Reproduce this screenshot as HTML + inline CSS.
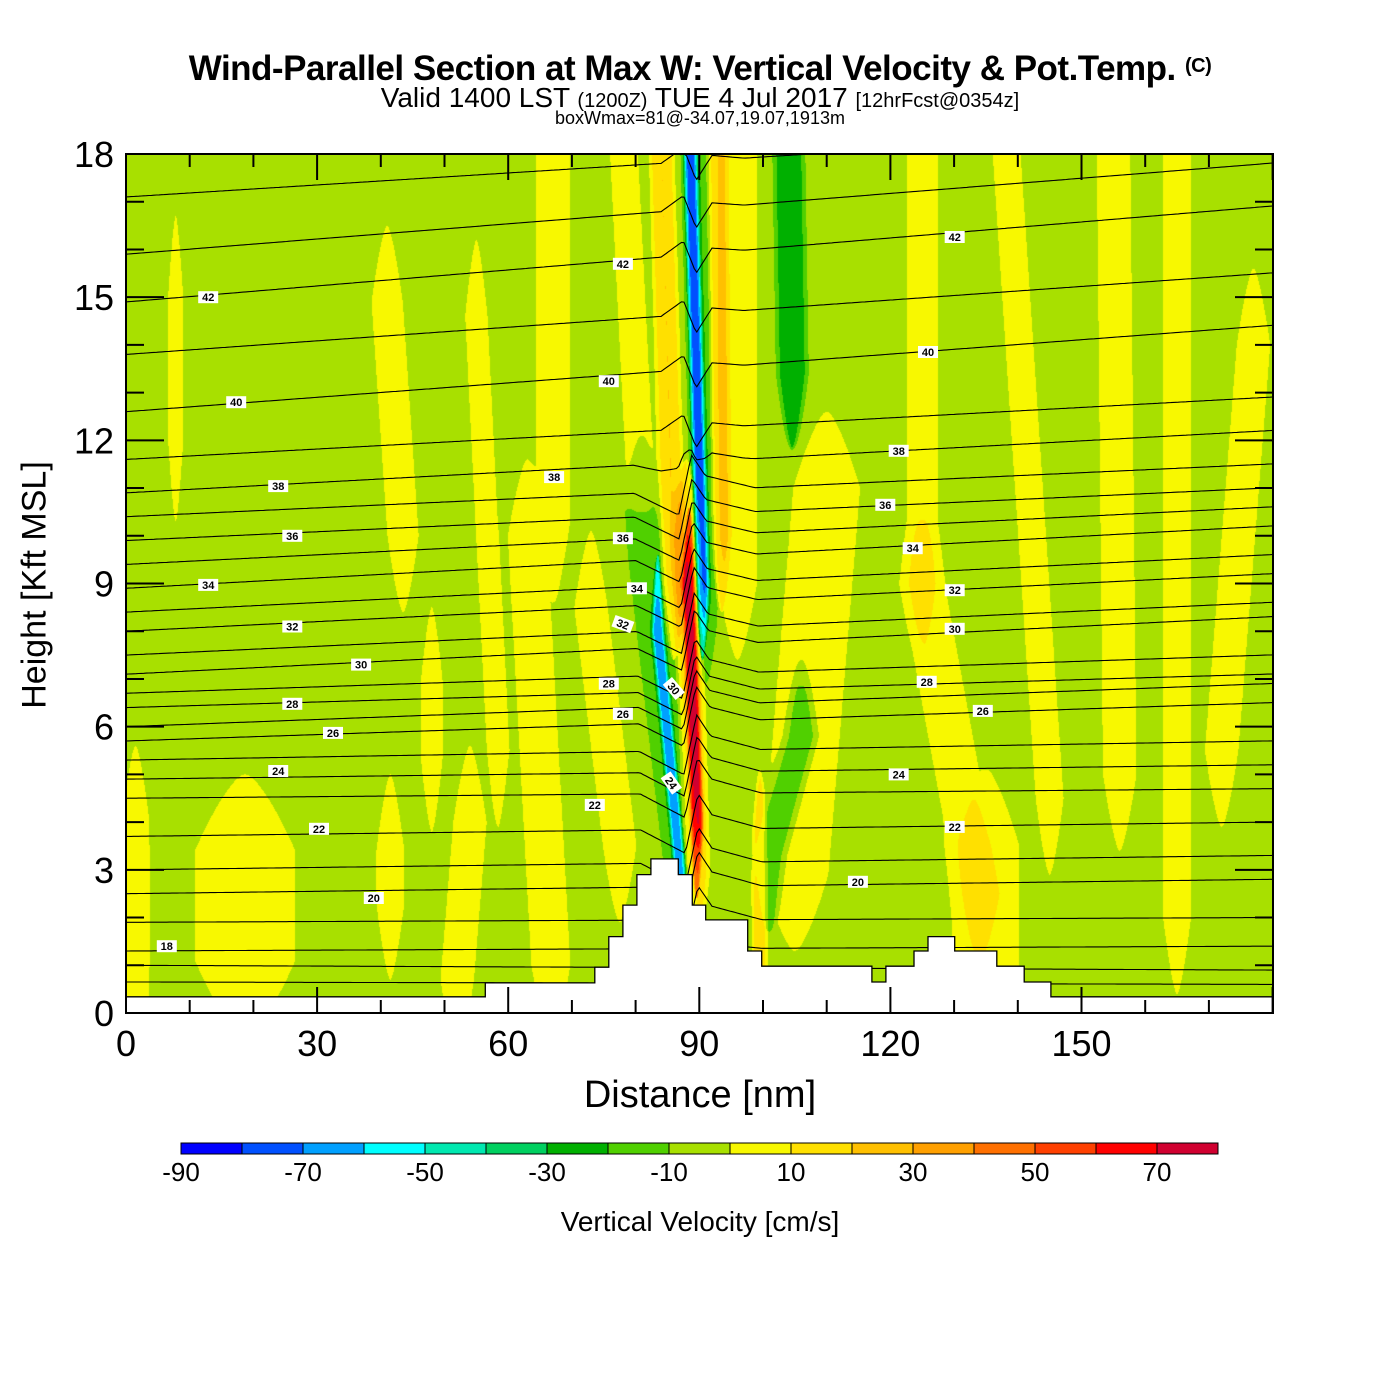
<!DOCTYPE html>
<html><head><meta charset="utf-8">
<style>
body{margin:0;background:#fff;}
#wrap{position:relative;width:1400px;height:1400px;background:#fff;font-family:"Liberation Sans",sans-serif;overflow:hidden;}
#field{position:absolute;left:126px;top:154px;}
#ov{position:absolute;left:0;top:0;}
.t{position:absolute;white-space:nowrap;color:#000;}
</style></head><body>
<div id="wrap">
<div class="t" style="left:0;width:1400px;text-align:center;top:49px;font-size:35px;font-weight:bold;letter-spacing:-0.5px">Wind-Parallel Section at Max W: Vertical Velocity &amp; Pot.Temp. <span style="font-size:20px;vertical-align:8px">(C)</span></div>
<div class="t" style="left:0;width:1400px;text-align:center;top:82px;font-size:28px">Valid 1400 LST <span style="font-size:20px">(1200Z)</span> TUE 4 Jul 2017 <span style="font-size:20px">[12hrFcst@0354z]</span></div>
<div class="t" style="left:0;width:1400px;text-align:center;top:108px;font-size:18px">boxWmax=81@-34.07,19.07,1913m</div>
<canvas id="field" width="1147" height="859"></canvas>
<svg id="ov" width="1400" height="1400"></svg>
<div class="t" style="left:0;width:1400px;text-align:center;top:1074px;font-size:38px">Distance [nm]</div>
<div class="t" style="left:35px;top:585px;font-size:34px;transform:translate(-50%,-50%) rotate(-90deg)">Height [Kft MSL]</div>
<div class="t" style="left:0;width:1400px;text-align:center;top:1206px;font-size:28px">Vertical Velocity [cm/s]</div>
</div>
<script>
// ---- data ----
const binColors=["#0000ff","#0050ff","#00a0ff","#00ffff","#00e8b0","#00d060","#00b000","#50d000","#a8e000","#f8f800","#ffe000","#ffc000","#ffa000","#ff7000","#ff4000","#ff0000","#d00030"];
const cbLabels=["-90","-70","-50","-30","-10","10","30","50","70"];
const xTickLabels=["0","30","60","90","120","150"];
const yTickLabels=["0","3","6","9","12","15","18"];
const baseW=-5;
// streaks of vertical velocity (nm at bottom, nm at top, kft bottom, kft top, half-width nm, amplitude cm/s)
const streakXb=[7.8,43.5,58.4,67,66.7,77.5,81,18.7,1.5,41.5,48,52,96,105,134,125,145,156,165,172,135,86,89.5,89.6,93.5,104.6,101,99.5,91,90.5,87.5,87];
const streakXt=[7.8,41,55,67,63,73,78,18.7,1.5,41.5,48,54,96,110,125,125,138,155,165,177,135,84,88,88.4,93,104,106,99.5,89,88.5,81,83.5];
const streakYb=[11.9,10,5.5,10.2,1,3.5,10.5,1.1,0.4,2.3,5.4,0.7,9,2.9,2.5,9,4.5,5,2,5.5,0.5,9,3,4,10,13.4,3.3,1,8.5,9,3,3];
const streakYt=[15.1,14.9,14.6,18.5,10,8.5,18.5,3.4,4,3.4,6.9,4,18.5,11,9,18.5,18.5,18.5,18.5,14,3.5,18.5,10,9,18.5,18.5,5.8,3.5,18.5,18.5,10.5,8];
const streakHw=[1.3,2.8,2,3,3.5,3,2.5,9,2.5,2.5,2,3,3.5,6,4,2.8,2.5,3,2.5,3,6,1.8,2,1.0,1.5,2.3,2.5,1.2,2,1.0,3,0.9];
const streakAmp=[9,9,9,9,9,9,9,9,9,9,9,9,9,9,9,9,9,9,9,9,9,25,25,55,20,-25,-19,20,-15,-55,-14,-50];
// potential temperature contours: level (K), height at x=0 and at x=179 (kft)
const thetaLevels=[16,17,18,19,20,21,22,23,24,25,26,27,28,29,30,31,32,33,34,35,36,37,38,39,40,41,42,43,44];
const thetaH0=[0.65,1.0,1.3,1.9,2.5,3.0,3.7,4.5,4.9,5.3,5.7,6.0,6.4,6.7,7.1,7.5,8.0,8.4,8.9,9.4,9.9,10.4,10.9,11.6,12.6,13.8,14.9,15.9,17.1];
const thetaHR=[0.6,0.9,1.4,2.0,2.8,3.3,4.0,4.7,5.2,5.7,6.5,6.9,7.1,7.5,8.3,8.6,9.2,9.6,10.2,10.6,11.0,11.5,12.2,12.9,14.4,15.5,16.9,17.8,18.6];
const labelX=[12.9,17.3,23.9,26.1,12.9,26.1,36.9,26.1,32.5,23.9,30.3,38.9,6.4,78,75.8,67.2,78,80.2,78,75.8,78,86,85.6,73.6,130.1,125.9,121.3,119.2,123.5,130.1,130.1,125.7,134.5,121.3,130.1,114.9];
const labelY=[15.0,12.8,11.04,10.0,8.97,8.1,7.3,6.48,5.87,5.07,3.86,2.41,1.4,15.7,13.24,11.23,9.95,8.9,8.15,6.9,6.27,6.8,4.82,4.36,16.26,13.85,11.78,10.65,9.74,8.86,8.05,6.94,6.33,5.0,3.9,2.75];
const labelText=["42","40","38","36","34","32","30","28","26","24","22","20","18","42","40","38","36","34","32","28","26","30","24","22","42","40","38","36","34","32","30","28","26","24","22","20"];
const labelRot=[0,0,0,0,0,0,0,0,0,0,0,0,0,0,0,0,0,0,20,0,0,50,55,0,0,0,0,0,0,0,0,0,0,0,0,0];
const terrainX=[0,56.4,73.6,75.8,78,80.2,82.4,86.7,88.9,91,97.6,99.8,117.1,119.3,123.7,125.9,130.1,136.7,141,145.2,180];
const terrainH=[0.34,0.63,0.96,1.6,2.26,2.9,3.23,2.9,2.26,1.95,1.3,0.98,0.65,0.98,1.3,1.6,1.3,0.98,0.65,0.34];

// ---- axes ----
const PL=126,PT=154,PW=1147,PH=859,XMAX=PW/6.37,YMAX=18;
const sx=v=>PL+v*6.37;
const sy=v=>PT+PH-v*(PH/YMAX);
const NS="http://www.w3.org/2000/svg";
const svg=document.getElementById('ov');
function mk(tag,attrs,parent){const e=document.createElementNS(NS,tag);for(const k in attrs)e.setAttribute(k,attrs[k]);(parent||svg).appendChild(e);return e;}

// ---- field ----
function wAt(x,y){
  let v=baseW;
  for(let i=0;i<streakXb.length;i++){
    const yb=streakYb[i],yt=streakYt[i];
    let t=(y-yb)/(yt-yb);t=t<0?0:t>1?1:t;
    const dy=y<yb?yb-y:(y>yt?y-yt:0);
    const taper=1-dy/1.6;
    if(taper<=0)continue;
    const xc=streakXb[i]+(streakXt[i]-streakXb[i])*t;
    const hw=streakHw[i]*Math.sqrt(taper);
    const d=(x-xc)/hw;
    if(d>3||d<-3)continue;
    v+=streakAmp[i]*Math.exp(-d*d*d*d)*(0.6+0.4*taper);
  }
  return v;
}
(function(){
  const cv=document.getElementById('field'),ctx=cv.getContext('2d');
  const img=ctx.createImageData(PW,PH);
  const rgb=binColors.map(c=>[parseInt(c.substr(1,2),16),parseInt(c.substr(3,2),16),parseInt(c.substr(5,2),16)]);
  for(let py=0;py<PH;py++){
    const y=YMAX-(py+0.5)*YMAX/PH;
    for(let px=0;px<PW;px++){
      const x=(px+0.5)/6.37;
      let b=Math.floor((wAt(x,y)+90)/10);b=b<0?0:b>16?16:b;
      const o=(py*PW+px)*4,c=rgb[b];
      img.data[o]=c[0];img.data[o+1]=c[1];img.data[o+2]=c[2];img.data[o+3]=255;
    }
  }
  ctx.putImageData(img,0,0);
})();

// ---- theta contours ----
function interp(xs,ys,x){if(x<=xs[0]||x>=xs[xs.length-1])return 0;for(let i=0;i<xs.length-1;i++){if(x<=xs[i+1]){const f=(x-xs[i])/(xs[i+1]-xs[i]);return ys[i]+f*(ys[i+1]-ys[i]);}}return 0;}
function pert(x,h){
  const xc=89.8-0.15*(Math.max(h,4)-4);
  const mid=interp([-9,-2,0,2.2,10],[0,-0.5,0.75,0.3,0],x-xc);
  const up=interp([-5,-1.5,0.5,3,8],[0,0.3,-0.4,0.1,0],x-89);
  let wm=h<11?1:(h>12?0:12-h);
  if(h<2)wm=Math.max(0,h-1);
  return wm*mid+(1-wm)*(h>11?up:0);
}
const gC=mk('g',{fill:'none',stroke:'#000','stroke-width':'1.1'});
for(let i=0;i<thetaLevels.length;i++){
  let d='';
  for(let x=0;x<=XMAX+0.01;x+=0.4){
    const h=thetaH0[i]+(thetaHR[i]-thetaH0[i])*x/179;
    const yv=Math.min(h+pert(x,h),YMAX);
    d+=(x===0?'M':'L')+sx(x).toFixed(1)+','+sy(yv).toFixed(1);
  }
  const p=mk('path',{d:d},gC);
  
  
}
// ---- terrain ----
(function(){
  let d='M'+sx(0)+','+sy(0);
  for(let i=0;i<terrainH.length;i++){d+='L'+sx(terrainX[i]).toFixed(1)+','+sy(terrainH[i]).toFixed(1)+'L'+Math.min(sx(terrainX[i+1]),PL+PW).toFixed(1)+','+sy(terrainH[i]).toFixed(1);}
  d+='L'+(PL+PW)+','+sy(0)+'Z';
  const t=mk('path',{d:d,fill:'#fff',stroke:'#000','stroke-width':'1.3'});
  
  
})();
// ---- contour labels ----
const gL=mk('g',{});
for(let i=0;i<labelText.length;i++){
  const g=mk('g',{transform:'translate('+sx(labelX[i]).toFixed(1)+','+sy(labelY[i]).toFixed(1)+') rotate('+labelRot[i]+')'},gL);
  
  
  mk('rect',{x:-10,y:-6,width:20,height:12,fill:'#fff'},g);
  const t=mk('text',{x:0,y:4,'text-anchor':'middle','font-size':'11','font-family':'Liberation Sans, sans-serif','font-weight':'bold'},g);
  t.textContent=labelText[i];
}
// ---- frame & ticks ----
const fr=mk('rect',{x:PL,y:PT,width:PW,height:PH,fill:'none',stroke:'#000','stroke-width':'2'});


const gT=mk('g',{stroke:'#000','stroke-width':'2'});
for(let v=10;v<XMAX;v+=10){const L=v%30===0?26:13;mk('line',{x1:sx(v),x2:sx(v),y1:PT,y2:PT+L},gT);mk('line',{x1:sx(v),x2:sx(v),y1:PT+PH,y2:PT+PH-L},gT);}
for(let v=1;v<18;v++){const L=v%3===0?38:18;mk('line',{x1:PL,x2:PL+L,y1:sy(v),y2:sy(v)},gT);mk('line',{x1:PL+PW,x2:PL+PW-L,y1:sy(v),y2:sy(v)},gT);}
xTickLabels.forEach((s,i)=>{const t=mk('text',{x:sx(i*30),y:1056,'text-anchor':'middle','font-size':'36','font-family':'Liberation Sans, sans-serif'});t.textContent=s;});
yTickLabels.forEach((s,i)=>{const t=mk('text',{x:114,y:sy(i*3)+13,'text-anchor':'end','font-size':'36','font-family':'Liberation Sans, sans-serif'});t.textContent=s;});
// ---- colorbar ----
const gB=mk('g',{});
const cbX0=181,cbW=(1218-181)/binColors.length;
binColors.forEach((c,i)=>{const r=mk('rect',{x:cbX0+i*cbW,y:1143,width:cbW,height:11,fill:c,stroke:'#000','stroke-width':'1'},gB);});
cbLabels.forEach((s,i)=>{const t=mk('text',{x:cbX0+i*2*cbW,y:1181,'text-anchor':'middle','font-size':'26','font-family':'Liberation Sans, sans-serif'},gB);t.textContent=s;});
</script>
</body></html>
